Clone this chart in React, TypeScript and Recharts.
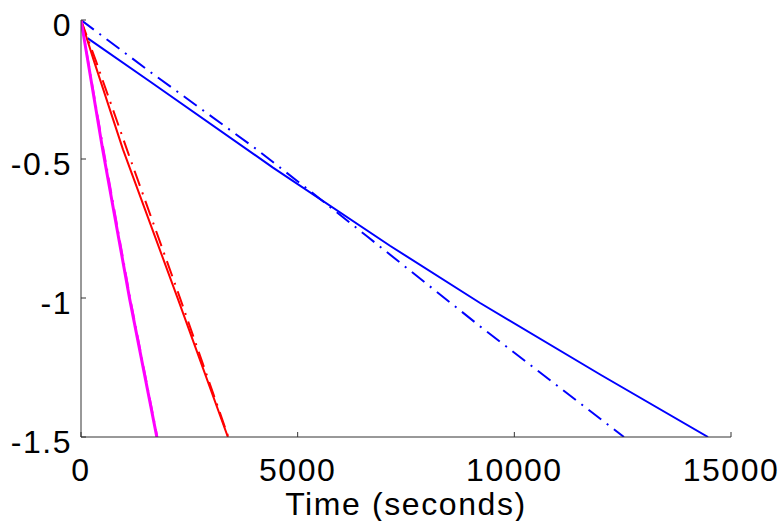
import { LineChart, Line, XAxis, YAxis } from 'recharts'

// time (s) vs value
const blueSolid = [
  { t: 150, v: -0.065 },
  { t: 1600, v: -0.222 },
  { t: 4430, v: -0.531 },
  { t: 7130, v: -0.812 },
  { t: 9210, v: -1.018 },
  { t: 12000, v: -1.277 },
  { t: 14470, v: -1.5 },
]

const blueDashDot = [
  { t: 0, v: 0 },
  { t: 1600, v: -0.187 },
  { t: 4060, v: -0.466 },
  { t: 5300, v: -0.617 },
  { t: 6600, v: -0.778 },
  { t: 9210, v: -1.102 },
  { t: 12530, v: -1.5 },
]

const redSolid = [
  { t: 0, v: 0 },
  { t: 300, v: -0.148 },
  { t: 970, v: -0.466 },
  { t: 2240, v: -1.005 },
  { t: 3390, v: -1.5 },
]

const redDashDot = [
  { t: 0, v: 0 },
  { t: 350, v: -0.15 },
  { t: 1085, v: -0.477 },
  { t: 2215, v: -0.969 },
  { t: 3400, v: -1.5 },
]

const magentaSolid = [
  { t: 0, v: 0 },
  { t: 500, v: -0.466 },
  { t: 1125, v: -1.005 },
  { t: 1750, v: -1.5 },
]

const magentaDashDot = [
  { t: 0, v: 0 },
  { t: 520, v: -0.466 },
  { t: 1140, v: -1.005 },
  { t: 1760, v: -1.5 },
]

const xTicks = [0, 5000, 10000, 15000]
const yTicks = [-1.5, -1, -0.5, 0]

const FONT = '"Liberation Sans", Arial, Helvetica, sans-serif'
const AXIS = '#333333'
const DASHDOT = '16 7 2 7'

function XTick({ x, y, payload }: { x: number; y: number; payload: { value: number } }) {
  return (
    <g>
      <line x1={x} y1={y} x2={x} y2={y - 5} stroke={AXIS} strokeWidth={1} />
      <text x={x} y={y + 44} textAnchor="middle" fontFamily={FONT} fontSize={32} letterSpacing={1.5} fill="#000">
        {payload.value}
      </text>
    </g>
  )
}

function YTick({ x, y, payload }: { x: number; y: number; payload: { value: number } }) {
  return (
    <g>
      <line x1={x} y1={y} x2={x + 5} y2={y} stroke={AXIS} strokeWidth={1} />
      <text x={x - 9} y={y + 15.5} textAnchor="end" fontFamily={FONT} fontSize={32} letterSpacing={1.5} fill="#000">
        {payload.value}
      </text>
    </g>
  )
}

export default function App() {
  return (
    <div style={{ position: 'absolute', left: 0, top: 0, background: '#fff' }}>
      <LineChart width={783} height={521} margin={{ top: 20, right: 52, left: 0, bottom: 0 }}>
        <XAxis
          type="number"
          dataKey="t"
          domain={[0, 15000]}
          ticks={xTicks}
          height={84}
          tickSize={0}
          tickMargin={0}
          tickLine={false}
          axisLine={{ stroke: AXIS, strokeWidth: 1 }}
          tick={(p: any) => <XTick {...p} />}
          allowDataOverflow
          label={{
            value: 'Time (seconds)',
            position: 'insideBottom',
            offset: 6,
            style: { fontFamily: FONT, fontSize: 32, letterSpacing: 1.6, fill: '#000' },
          }}
        />
        <YAxis
          type="number"
          dataKey="v"
          domain={[-1.5, 0]}
          ticks={yTicks}
          width={81}
          tickSize={0}
          tickMargin={0}
          tickLine={false}
          axisLine={{ stroke: AXIS, strokeWidth: 1 }}
          tick={(p: any) => <YTick {...p} />}
          allowDataOverflow
        />
        <Line data={blueSolid} dataKey="v" type="linear" stroke="#0000ff" strokeWidth={2} dot={false} isAnimationActive={false} />
        <Line data={blueDashDot} dataKey="v" type="linear" stroke="#0000ff" strokeWidth={2} strokeDasharray={DASHDOT} dot={false} isAnimationActive={false} />
        <Line data={redSolid} dataKey="v" type="linear" stroke="#ff0000" strokeWidth={2} dot={false} isAnimationActive={false} />
        <Line data={redDashDot} dataKey="v" type="linear" stroke="#ff0000" strokeWidth={2} strokeDasharray={DASHDOT} dot={false} isAnimationActive={false} />
        <Line data={magentaSolid} dataKey="v" type="linear" stroke="#ff00ff" strokeWidth={3} dot={false} isAnimationActive={false} />
        <Line data={magentaDashDot} dataKey="v" type="linear" stroke="#ff00ff" strokeWidth={2} strokeDasharray={DASHDOT} dot={false} isAnimationActive={false} />
      </LineChart>
    </div>
  )
}
